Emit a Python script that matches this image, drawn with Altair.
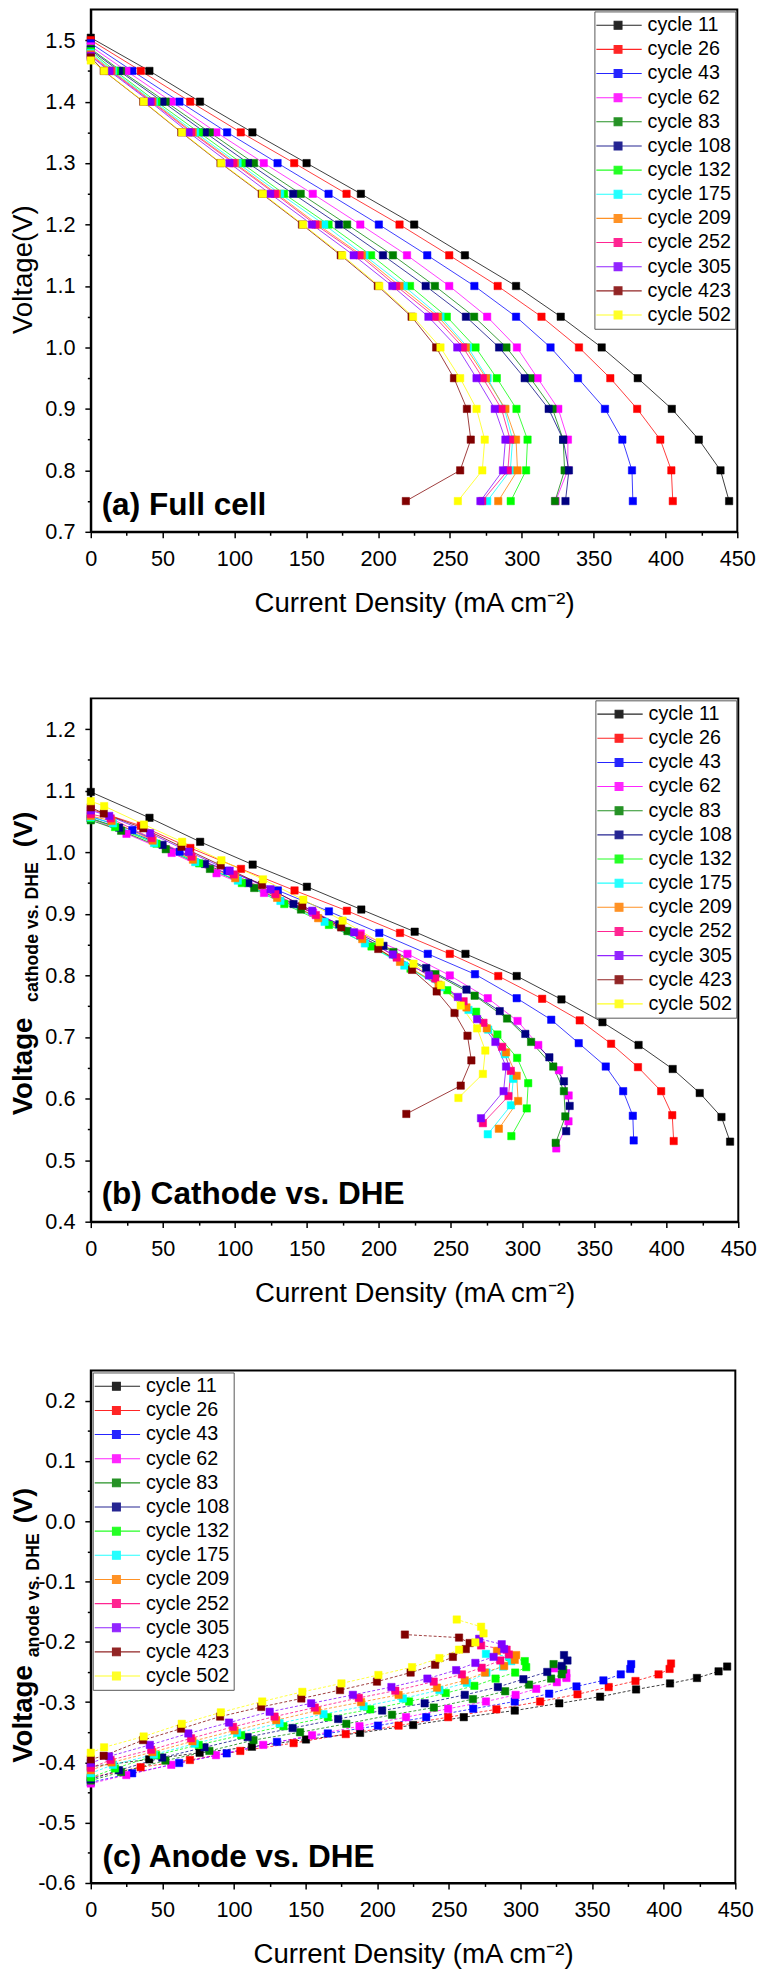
import altair as alt
import pandas as pd

# ---------------- data ----------------
CYCLES = ["cycle 11", "cycle 26", "cycle 43", "cycle 62", "cycle 83", "cycle 108",
          "cycle 132", "cycle 175", "cycle 209", "cycle 252", "cycle 305",
          "cycle 423", "cycle 502"]
COLORS = ["#000000", "#FF0000", "#0000FF", "#FF00FF", "#008000", "#000080",
          "#00FF00", "#00FFFF", "#FF8000", "#FF0080", "#8000FF", "#800000", "#FFFF00"]

# open-circuit cell voltage (first point, current = 0)
OCV = [1.504, 1.500, 1.495, 1.490, 1.486, 1.484, 1.482, 1.479, 1.477, 1.475,
       1.474, 1.472, 1.467]
# potentiostatic full-cell voltage steps
STEPS = [1.45, 1.40, 1.35, 1.30, 1.25, 1.20, 1.15, 1.10, 1.05, 1.00, 0.95,
         0.90, 0.85, 0.80, 0.75]

# current density (mA cm-2) at OCV and each step
CURRENT = [
    [0, 40.8, 76.0, 112.5, 150.2, 188.0, 225.1, 260.4, 296.0, 327.1, 355.6, 380.7, 404.4, 423.2, 438.3, 444.3],
    [0, 34.8, 69.2, 104.4, 141.6, 178.0, 214.9, 249.5, 283.2, 313.7, 339.8, 361.6, 380.3, 396.4, 404.1, 405.1],
    [0, 28.9, 61.7, 94.9, 130.0, 165.5, 200.5, 234.2, 267.0, 296.0, 320.0, 339.1, 357.9, 370.0, 376.7, 377.3],
    [0, 24.8, 56.2, 87.4, 120.4, 154.5, 187.6, 220.1, 249.5, 275.9, 296.6, 311.0, 325.4, 332.1, 332.0, 323.5],
    [0, 21.1, 52.1, 82.8, 113.6, 146.1, 178.4, 210.3, 239.5, 266.8, 289.3, 306.0, 321.4, 328.8, 329.8, 323.1],
    [0, 19.7, 49.9, 79.4, 109.5, 140.9, 172.7, 203.4, 233.1, 261.1, 284.2, 302.0, 318.7, 328.8, 332.8, 330.4],
    [0, 16.9, 45.7, 75.3, 105.0, 134.5, 165.5, 195.1, 222.2, 247.8, 267.8, 282.6, 296.3, 304.0, 303.0, 292.3],
    [0, 15.5, 44.0, 72.6, 102.2, 131.8, 162.5, 190.5, 217.9, 243.4, 262.5, 276.2, 287.9, 293.6, 292.0, 275.9],
    [0, 14.5, 43.0, 71.0, 100.4, 129.5, 158.0, 188.7, 214.9, 241.7, 261.1, 275.2, 288.6, 296.0, 297.0, 283.6],
    [0, 13.8, 42.2, 70.0, 99.3, 128.3, 156.4, 187.1, 212.6, 239.4, 259.1, 272.9, 285.9, 291.9, 290.3, 272.5],
    [0, 12.8, 41.2, 68.1, 96.5, 124.9, 153.9, 183.0, 209.9, 235.0, 255.1, 268.5, 281.2, 288.6, 286.9, 271.2],
    [0, 9.0, 36.5, 63.0, 90.3, 119.0, 147.0, 174.0, 199.8, 223.3, 240.4, 252.8, 261.8, 264.5, 257.1, 219.3],
    [0, 9.3, 36.9, 63.5, 90.8, 119.7, 147.7, 175.0, 200.8, 224.3, 243.4, 257.1, 268.5, 274.2, 272.5, 255.5],
]

# cathode potential vs. DHE (V)
CATHODE = [
    [1.098, 1.056, 1.017, 0.980, 0.944, 0.907, 0.871, 0.835, 0.799, 0.761, 0.724, 0.687, 0.648, 0.609, 0.570, 0.530],
    [1.070, 1.043, 1.007, 0.973, 0.938, 0.905, 0.869, 0.835, 0.799, 0.762, 0.727, 0.689, 0.651, 0.612, 0.573, 0.531],
    [1.058, 1.036, 1.001, 0.970, 0.938, 0.904, 0.869, 0.835, 0.802, 0.763, 0.728, 0.690, 0.652, 0.612, 0.572, 0.532],
    [1.055, 1.030, 0.999, 0.966, 0.934, 0.902, 0.868, 0.835, 0.800, 0.763, 0.726, 0.687, 0.646, 0.605, 0.563, 0.519],
    [1.052, 1.035, 1.005, 0.973, 0.942, 0.907, 0.872, 0.838, 0.802, 0.767, 0.730, 0.692, 0.652, 0.612, 0.571, 0.528],
    [1.055, 1.040, 1.012, 0.981, 0.950, 0.916, 0.883, 0.848, 0.812, 0.777, 0.742, 0.705, 0.667, 0.628, 0.588, 0.547],
    [1.055, 1.041, 1.014, 0.982, 0.950, 0.916, 0.882, 0.847, 0.811, 0.776, 0.741, 0.704, 0.666, 0.625, 0.584, 0.539],
    [1.057, 1.047, 1.015, 0.984, 0.954, 0.921, 0.887, 0.852, 0.816, 0.781, 0.744, 0.712, 0.672, 0.632, 0.589, 0.542],
    [1.059, 1.051, 1.019, 0.988, 0.958, 0.926, 0.893, 0.859, 0.822, 0.785, 0.748, 0.714, 0.675, 0.637, 0.596, 0.551],
    [1.062, 1.055, 1.023, 0.993, 0.964, 0.932, 0.898, 0.865, 0.829, 0.795, 0.758, 0.723, 0.684, 0.645, 0.604, 0.560],
    [1.068, 1.059, 1.031, 1.001, 0.970, 0.940, 0.905, 0.870, 0.834, 0.800, 0.765, 0.729, 0.692, 0.652, 0.612, 0.568],
    [1.073, 1.063, 1.039, 1.009, 0.979, 0.947, 0.913, 0.878, 0.843, 0.809, 0.774, 0.739, 0.702, 0.662, 0.621, 0.575],
    [1.083, 1.075, 1.045, 1.017, 0.987, 0.956, 0.923, 0.889, 0.854, 0.819, 0.784, 0.751, 0.714, 0.678, 0.640, 0.601],
]

# anode potential vs. DHE (V)
ANODE = [
    [-0.407, -0.395, -0.384, -0.374, -0.362, -0.351, -0.338, -0.325, -0.314, -0.302, -0.291, -0.279, -0.269, -0.260, -0.249, -0.241],
    [-0.425, -0.408, -0.396, -0.381, -0.368, -0.353, -0.339, -0.325, -0.312, -0.299, -0.287, -0.275, -0.265, -0.254, -0.245, -0.236],
    [-0.433, -0.418, -0.401, -0.385, -0.366, -0.352, -0.339, -0.325, -0.311, -0.299, -0.286, -0.274, -0.264, -0.254, -0.245, -0.237],
    [-0.435, -0.421, -0.404, -0.388, -0.371, -0.355, -0.340, -0.325, -0.311, -0.299, -0.288, -0.278, -0.267, -0.260, -0.252, -0.244],
    [-0.430, -0.416, -0.397, -0.381, -0.363, -0.350, -0.336, -0.321, -0.309, -0.295, -0.282, -0.271, -0.261, -0.254, -0.246, -0.237],
    [-0.428, -0.413, -0.392, -0.375, -0.358, -0.343, -0.328, -0.314, -0.302, -0.288, -0.275, -0.262, -0.250, -0.240, -0.231, -0.222],
    [-0.425, -0.410, -0.388, -0.371, -0.355, -0.340, -0.325, -0.312, -0.299, -0.285, -0.273, -0.261, -0.251, -0.242, -0.232, -0.225],
    [-0.418, -0.404, -0.387, -0.369, -0.351, -0.335, -0.320, -0.307, -0.294, -0.280, -0.268, -0.251, -0.241, -0.232, -0.224, -0.220],
    [-0.413, -0.400, -0.383, -0.365, -0.347, -0.330, -0.314, -0.300, -0.288, -0.276, -0.264, -0.251, -0.240, -0.230, -0.222, -0.215],
    [-0.409, -0.396, -0.379, -0.360, -0.341, -0.324, -0.309, -0.293, -0.281, -0.266, -0.254, -0.243, -0.231, -0.221, -0.213, -0.206],
    [-0.401, -0.390, -0.371, -0.352, -0.334, -0.316, -0.302, -0.288, -0.275, -0.261, -0.247, -0.235, -0.225, -0.212, -0.204, -0.195],
    [-0.395, -0.389, -0.363, -0.344, -0.324, -0.308, -0.294, -0.280, -0.266, -0.251, -0.238, -0.225, -0.212, -0.202, -0.193, -0.188],
    [-0.384, -0.375, -0.357, -0.336, -0.317, -0.299, -0.283, -0.269, -0.255, -0.242, -0.227, -0.213, -0.201, -0.186, -0.175, -0.163],
]

# tick positions (major + minor)
X_TICKS = [i * 25 for i in range(19)]
YA_TICKS = [round(0.70 + 0.05 * i, 2) for i in range(17)]
YB_TICKS = [round(0.40 + 0.05 * i, 2) for i in range(17)]
YC_TICKS = [round(-0.60 + 0.05 * i, 2) + 0.0 for i in range(17)]

# ---------------- build table ----------------
rows = []
for i, c in enumerate(CYCLES):
    full = [OCV[i]] + STEPS
    for k in range(len(full)):
        rows.append({"cycle": c, "idx": k, "current": CURRENT[i][k],
                     "full": full[k], "cathode": CATHODE[i][k], "anode": ANODE[i][k]})
df = pd.DataFrame(rows)

FONT = "Liberation Sans"
# legend glyph: short line with a square marker on it
PATH = "M-3,0H8.5M1.5,-1H3.5V1H1.5Z"
cscale = alt.Scale(domain=CYCLES, range=COLORS)

MAJOR_X = "datum.value % 50 === 0"
MAJOR_Y = "abs(datum.value*10 - round(datum.value*10)) < 0.001"
LEFT = 82


def legend(orient):
    return alt.Legend(title=None, orient=orient, offset=2, padding=4,
                      strokeColor="#555555", fillColor="white",
                      labelFont=FONT, labelFontSize=20, labelColor="black",
                      symbolType=PATH, symbolSize=64, symbolStrokeWidth=1.1,
                      labelOffset=30, rowPadding=4.5, labelLimit=300)


def x_axis():
    return alt.Axis(values=X_TICKS,
                    labelExpr=f"{MAJOR_X} ? datum.label : ''",
                    tickSize={"condition": {"test": MAJOR_X, "value": 6}, "value": 3.5},
                    labelPadding=11, labelFlush=False, labelOverlap=False,
                    title="Current Density (mA cm⁻²)", titleY=59, titleBaseline="top",
                    titleFontSize=28, titleFontWeight="normal")


def y_axis(ticks, neg=False):
    if neg:
        lab = (f"{MAJOR_Y} ? (datum.value < -0.001 ? '-' + format(-datum.value, '.1f') "
               f": format(abs(datum.value), '.1f')) : ''")
    else:
        lab = f"{MAJOR_Y} ? format(datum.value, '.1f') : ''"
    return alt.Axis(values=ticks, labelExpr=lab,
                    tickSize={"condition": {"test": MAJOR_Y, "value": 6}, "value": 3.5},
                    labelPadding=10, labelFlush=False, labelOverlap=False, title=None)


def text_layer(txt, x, y, size, weight="normal", angle=0, align="left", baseline="middle"):
    return alt.Chart(pd.DataFrame({"t": [txt]})).mark_text(
        font=FONT, fontSize=size, fontWeight=weight, angle=angle, align=align,
        baseline=baseline, color="black").encode(
        text="t:N", x=alt.value(x), y=alt.value(y))


def panel(ycol, ydomain, yticks, width, height, leg_orient, bottom,
          texts, dash=False, neg=False):
    X = alt.X("current:Q", scale=alt.Scale(domain=[0, 450], nice=False, zero=False),
              axis=x_axis())
    Y = alt.Y(f"{ycol}:Q", scale=alt.Scale(domain=ydomain, nice=False, zero=False),
              axis=y_axis(yticks, neg))
    leg = legend(leg_orient)
    marker = alt.Chart(pd.DataFrame({"m": [0]})).mark_rule(
        color="white", strokeWidth=0.5).encode(
        x=alt.value(-LEFT), x2=alt.value(-LEFT), y=alt.value(0), y2=alt.value(bottom))
    line_kw = dict(strokeWidth=0.9, opacity=0.85)
    if dash:
        line_kw["strokeDash"] = [3, 2]
    lines = alt.Chart(df).mark_line(**line_kw).encode(
        x=X, y=Y, color=alt.Color("cycle:N", scale=cscale, legend=leg),
        order=alt.Order("idx:Q"))
    pts = alt.Chart(df).mark_point(shape="square", filled=True, size=56, opacity=1,
                                   strokeWidth=0.5).encode(
        x=X, y=Y,
        color=alt.Color("cycle:N", scale=cscale, legend=leg),
        stroke=alt.Stroke("cycle:N", scale=cscale, legend=leg))
    return alt.layer(marker, lines, pts, *texts).properties(width=width, height=height)


HA, HB, HC = 530, 531, 520

pa = panel("full", [0.7, 1.55], YA_TICKS, 656, HA, "top-right", 675, [
    text_layer("Voltage(V)", -68, HA - 266, 28, angle=270, align="center"),
    text_layer("(a) Full cell", 11, HA - 17, 32, weight="bold", baseline="alphabetic"),
])

pb = panel("cathode", [0.4, 1.25], YB_TICKS, 657, HB, "top-right", 658, [
    text_layer("Voltage", -68, 423, 28, weight="bold", angle=270),
    text_layer("cathode vs. DHE", -59, 308, 18, weight="bold", angle=270),
    text_layer("(V)", -68, 151, 27, weight="bold", angle=270),
    text_layer("(b) Cathode vs. DHE", 11, HB - 18, 32, weight="bold", baseline="alphabetic"),
])

pc = panel("anode", [-0.6, 0.25], YC_TICKS, 654, HC, "top-left", 10, [
    text_layer("Voltage", -68, 398, 28, weight="bold", angle=270),
    text_layer("anode vs. DHE", -58, 291, 18, weight="bold", angle=270),
    text_layer("(V)", -68, 155, 27, weight="bold", angle=270),
    text_layer("(c) Anode vs. DHE", 12, HC - 16, 32, weight="bold", baseline="alphabetic"),
], dash=True, neg=True)

chart = alt.vconcat(pa, pb, pc, spacing=20).properties(
    padding={"left": 0, "top": -15, "right": 0, "bottom": 0}, background="white"
).configure_view(
    stroke="black", strokeWidth=2
).configure_axis(
    labelFont=FONT, labelFontSize=22, labelColor="black",
    titleFont=FONT, titleColor="black",
    domainColor="black", domainWidth=2, tickColor="black", tickWidth=1.5, grid=False
)

chart.save("out.html", embed_options={"renderer": "svg", "actions": False})
